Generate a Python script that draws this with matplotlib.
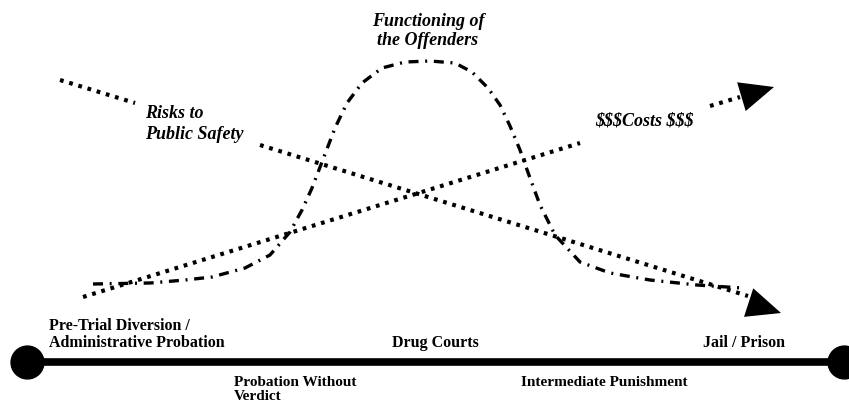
import matplotlib.pyplot as plt
import numpy as np

# pixel-space diagram (x right, y down)
func_x = [93, 150, 185, 212, 245, 270, 290, 302, 312, 322, 335, 347, 362, 382, 405, 430, 455, 472, 488, 500, 510, 520, 530, 540, 555, 580, 610, 650, 697, 742]
func_y = [284, 283, 280, 277, 268, 255, 232, 210, 188, 162, 128, 103, 83, 68, 62, 61, 63, 72, 88, 105, 126, 150, 178, 205, 235, 262, 273, 280, 285, 288]

risk_start = [(60, 80), (135, 103)]
risk_end = [(260, 145), (748, 296)]
risk_tip = (781, 313)

cost_start = [(83, 297), (580, 143)]
cost_end = [(710, 106), (740, 97)]
cost_tip = (774, 87)

bar_x = [27, 844]
bar_y = 362

top_labels = ["Pre-Trial Diversion /\nAdministrative Probation", "Drug Courts", "Jail / Prison"]
top_label_x = [49, 435, 744]
bottom_labels = ["Probation Without\nVerdict", "Intermediate Punishment"]
bottom_label_x = [234, 604]

fig = plt.figure(figsize=(8.49, 4.07), dpi=100)
ax = fig.add_axes([0, 0, 1, 1])
ax.set_xlim(0, 849)
ax.set_ylim(407, 0)
ax.axis('off')

serif = ['Liberation Serif', 'DejaVu Serif']

# functioning of offenders curve
ax.plot(func_x, func_y, color='black', lw=2.4, linestyle=(0, (3, 2, 0.6, 2)))


def dotted(seg):
    xs, ys = zip(*seg)
    ax.plot(xs, ys, color='black', lw=3, linestyle=(0, (0.9, 1.4)), solid_capstyle='butt')


def head(p_from, tip, length=34, width=30):
    d = np.array(tip, float) - np.array(p_from, float)
    d /= np.linalg.norm(d)
    n = np.array([-d[1], d[0]])
    base = np.array(tip) - d * length
    tri = [base + n * width / 2, base - n * width / 2, tip]
    ax.fill([p[0] for p in tri], [p[1] for p in tri], color='black', lw=0)


dotted(risk_start)
dotted(risk_end)
head(risk_end[0], risk_tip)
dotted(cost_start)
dotted(cost_end)
head(cost_end[0], cost_tip)

# bottom scale bar
ax.plot(bar_x, [bar_y, bar_y], color='black', lw=5.5, solid_capstyle='butt')
ax.scatter(bar_x, [bar_y, bar_y], s=560, color='black', zorder=3)

ax.text(428, 31, "Functioning of\nthe Offenders", ha='center', va='center', fontsize=13,
        family=serif, style='italic', weight='bold', linespacing=1.2)
ax.text(145, 124, "Risks to\nPublic Safety", ha='left', va='center', fontsize=13,
        family=serif, style='italic', weight='bold', linespacing=1.3)
ax.text(595, 121, "$$$Costs $$$", ha='left', va='center', fontsize=13,
        family=serif, style='italic', weight='bold', parse_math=False)

for lab, x in zip(top_labels, top_label_x):
    ha = 'left' if x < 100 else 'center'
    ax.text(x, 351, lab, ha=ha, va='bottom', fontsize=11.5, family=serif, weight='bold',
            linespacing=1.1)
for lab, x in zip(bottom_labels, bottom_label_x):
    ha = 'left' if lab.startswith('Probation') else 'center'
    ax.text(x, 376, lab, ha=ha, va='top', fontsize=11, family=serif, weight='bold',
            linespacing=1.05)

fig.savefig('out.png', dpi=100, facecolor='white')
